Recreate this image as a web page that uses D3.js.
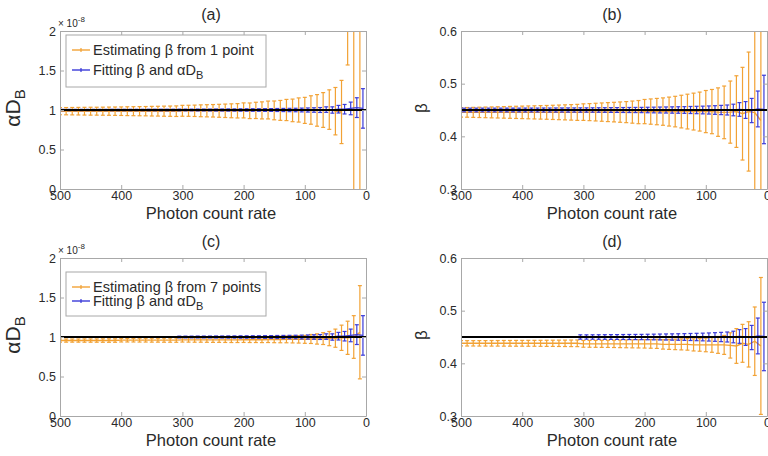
<!DOCTYPE html>
<html>
<head>
<meta charset="utf-8">
<script src="https://cdnjs.cloudflare.com/ajax/libs/d3/7.8.5/d3.min.js"></script>
<style>
    body { margin: 0; background: #fff; }
    svg text { font-family: "Liberation Sans", Arial, sans-serif; fill: #2a2a2a; }
</style>
</head>
<body>
<div id="chart"></div>
<script>
// photon count rates of the error bars
var orangeRates = [10, 20, 30, 40, 50, 60, 70, 80, 90, 100, 110, 120, 130, 140, 150, 160, 170, 180, 190, 200,
    210, 220, 230, 240, 250, 260, 270, 280, 290, 300, 310, 320, 330, 340, 350, 360, 370, 380, 390, 400,
    410, 420, 430, 440, 450, 460, 470, 480, 490, 500];
var blueRates = [5, 15, 25, 35, 45, 55, 65, 75, 85, 95, 105, 115, 125, 135, 145, 155, 165, 175, 185, 195,
    205, 215, 225, 235, 245, 255, 265, 275, 285, 295, 305, 315, 325, 335, 345, 355, 365, 375, 385, 395,
    405, 415, 425, 435, 445, 455, 465, 475, 485, 495];

// (a) estimating beta from 1 point, alpha*D_B (x 1e-8)
var alphaOneMean = [1.00, 1.00, 2.40, 0.975, 0.985, 1.005, 1.00, 0.995, 1.00, 0.995,
    1.00, 0.995, 1.00, 0.995, 0.995, 1.00, 0.995, 0.995, 0.99, 0.995,
    0.99, 0.99, 0.99, 0.99, 0.99, 0.99, 0.99, 0.99, 0.99, 0.99,
    0.985, 0.985, 0.985, 0.985, 0.985, 0.985, 0.985, 0.985, 0.985, 0.985,
    0.985, 0.985, 0.985, 0.985, 0.985, 0.985, 0.985, 0.985, 0.985, 0.985];
var alphaOneErr = [2.20, 1.60, 0.83, 0.40, 0.30, 0.25, 0.22, 0.20, 0.18, 0.165,
    0.153, 0.143, 0.134, 0.126, 0.119, 0.113, 0.108, 0.103, 0.099, 0.095,
    0.091, 0.088, 0.085, 0.082, 0.079, 0.077, 0.075, 0.072, 0.070, 0.069,
    0.067, 0.065, 0.064, 0.062, 0.061, 0.059, 0.058, 0.057, 0.056, 0.054,
    0.053, 0.052, 0.051, 0.050, 0.050, 0.049, 0.048, 0.047, 0.046, 0.045];

// (b) estimating beta from 1 point, beta
var betaOneMean = [0.43, 0.445, 0.447, 0.443, 0.447, 0.446, 0.4455, 0.446, 0.447, 0.447,
    0.447, 0.447, 0.447, 0.447, 0.447, 0.447, 0.447, 0.447, 0.447, 0.447,
    0.446, 0.446, 0.446, 0.446, 0.446, 0.446, 0.446, 0.446, 0.446, 0.446,
    0.4455, 0.4455, 0.4455, 0.4455, 0.4455, 0.4455, 0.4455, 0.4455, 0.4455, 0.4455,
    0.4455, 0.4455, 0.4455, 0.4455, 0.4455, 0.4455, 0.4455, 0.4455, 0.4455, 0.4455];
var betaOneErr = [0.20, 0.18, 0.113, 0.088, 0.068, 0.059, 0.050, 0.046, 0.042, 0.040,
    0.037, 0.035, 0.033, 0.031, 0.029, 0.0275, 0.026, 0.025, 0.024, 0.023,
    0.022, 0.021, 0.020, 0.0193, 0.0186, 0.018, 0.0174, 0.0168, 0.0162, 0.0157,
    0.0152, 0.0147, 0.0143, 0.0139, 0.0135, 0.0131, 0.0128, 0.0125, 0.0122, 0.0119,
    0.0116, 0.0113, 0.011, 0.0107, 0.0104, 0.0101, 0.0098, 0.0095, 0.0092, 0.009];

// (c) estimating beta from 7 points, alpha*D_B (x 1e-8)
var alphaSevenMean = [1.06, 1.00, 0.99, 0.99, 0.985, 0.98, 0.98, 0.975, 0.975, 0.97,
    0.97, 0.97, 0.97, 0.968, 0.968, 0.968, 0.966, 0.966, 0.965, 0.965,
    0.963, 0.963, 0.963, 0.963, 0.963, 0.963, 0.963, 0.963, 0.963, 0.963,
    0.96, 0.96, 0.96, 0.96, 0.96, 0.96, 0.96, 0.96, 0.96, 0.96,
    0.955, 0.955, 0.955, 0.955, 0.955, 0.955, 0.955, 0.955, 0.955, 0.955];
var alphaSevenErr = [0.59, 0.27, 0.21, 0.16, 0.115, 0.09, 0.075, 0.065, 0.057, 0.05,
    0.047, 0.045, 0.043, 0.041, 0.04, 0.038, 0.037, 0.036, 0.035, 0.034,
    0.033, 0.033, 0.032, 0.031, 0.031, 0.03, 0.029, 0.029, 0.028, 0.027,
    0.027, 0.026, 0.026, 0.025, 0.025, 0.024, 0.024, 0.023, 0.023, 0.023,
    0.022, 0.022, 0.022, 0.021, 0.021, 0.021, 0.020, 0.020, 0.020, 0.020];

// (d) estimating beta from 7 points, beta
var betaSevenMean = [0.433, 0.442, 0.436, 0.438, 0.433, 0.434, 0.435, 0.435, 0.435, 0.435,
    0.435, 0.435, 0.436, 0.436, 0.436, 0.436, 0.436, 0.437, 0.437, 0.437,
    0.437, 0.437, 0.437, 0.437, 0.437, 0.437, 0.437, 0.437, 0.437, 0.437,
    0.438, 0.438, 0.438, 0.438, 0.438, 0.438, 0.438, 0.438, 0.438, 0.438,
    0.438, 0.438, 0.438, 0.438, 0.438, 0.438, 0.438, 0.438, 0.438, 0.438];
var betaSevenErr = [0.13, 0.065, 0.043, 0.036, 0.033, 0.024, 0.018, 0.016, 0.014, 0.013,
    0.012, 0.0115, 0.011, 0.0105, 0.010, 0.0095, 0.009, 0.0087, 0.0083, 0.008,
    0.0078, 0.0076, 0.0074, 0.0072, 0.007, 0.0068, 0.0067, 0.0066, 0.0065, 0.0064,
    0.0063, 0.0062, 0.0061, 0.006, 0.0059, 0.0058, 0.0057, 0.0056, 0.0056, 0.0055,
    0.0055, 0.0054, 0.0054, 0.0053, 0.0053, 0.0052, 0.0052, 0.0051, 0.0051, 0.005];

// fitting beta and alpha*D_B (shared by both rows)
var blueAlphaMean = [1.02, 1.03, 1.02, 1.01, 1.01, 1.00, 1.005, 1.00, 1.00, 1.00,
    1.00, 1.00, 1.00, 1.00, 1.00, 1.00, 1.00, 1.00, 1.00, 1.00,
    1.00, 1.00, 1.00, 1.00, 1.00, 1.00, 1.00, 1.00, 1.00, 1.00,
    1.00, 1.00, 1.00, 1.00, 1.00, 1.00, 1.00, 1.00, 1.00, 1.00,
    1.00, 1.00, 1.00, 1.00, 1.00, 1.00, 1.00, 1.00, 1.00, 1.00];
var blueAlphaErr = [0.25, 0.125, 0.08, 0.06, 0.048, 0.04, 0.035, 0.031, 0.028, 0.026,
    0.024, 0.022, 0.021, 0.02, 0.019, 0.018, 0.017, 0.016, 0.016, 0.015,
    0.015, 0.014, 0.014, 0.013, 0.013, 0.012, 0.012, 0.012, 0.011, 0.011,
    0.011, 0.010, 0.010, 0.010, 0.010, 0.010, 0.009, 0.009, 0.009, 0.009,
    0.009, 0.009, 0.008, 0.008, 0.008, 0.008, 0.008, 0.008, 0.008, 0.008];
var blueBetaMean = [0.451, 0.452, 0.449, 0.45, 0.451, 0.45, 0.45, 0.45, 0.45, 0.45,
    0.45, 0.45, 0.45, 0.45, 0.45, 0.45, 0.45, 0.45, 0.45, 0.45,
    0.45, 0.45, 0.45, 0.45, 0.45, 0.45, 0.45, 0.45, 0.45, 0.45,
    0.45, 0.45, 0.45, 0.45, 0.45, 0.45, 0.45, 0.45, 0.45, 0.45,
    0.45, 0.45, 0.45, 0.45, 0.45, 0.45, 0.45, 0.45, 0.45, 0.45];
var blueBetaErr = [0.065, 0.034, 0.023, 0.016, 0.013, 0.011, 0.0095, 0.0088, 0.0082, 0.0077,
    0.0073, 0.007, 0.0067, 0.0064, 0.0062, 0.006, 0.0058, 0.0056, 0.0054, 0.0052,
    0.005, 0.0049, 0.0048, 0.0047, 0.0046, 0.0045, 0.0044, 0.0043, 0.0042, 0.0041,
    0.0041, 0.004, 0.004, 0.0039, 0.0039, 0.0038, 0.0038, 0.0037, 0.0037, 0.0037,
    0.0036, 0.0036, 0.0036, 0.0035, 0.0035, 0.0035, 0.0035, 0.0035, 0.0035, 0.0035];

var xTicks = [0, 100, 200, 300, 400, 500];
var alphaTicks = [0, 0.5, 1, 1.5, 2];
var betaTicks = [0.3, 0.4, 0.5, 0.6];
var trueAlpha = 1;
var trueBeta = 0.45;
var blueMaxRateBottom = 305;   // blue series in (c)/(d) only below this rate

var ORANGE = '#f2a235';
var BLUE = '#3a3ad8';
var FRAME = '#a8a8a8';

var svg = d3.select('#chart')
    .append('svg')
    .attr('width', 768)
    .attr('height', 456);

var panels = [
    { id: 'a', left: 60, top: 31, w: 306, h: 158, domain: [0, 2], ticks: alphaTicks, alpha: true,
      mean: alphaOneMean, err: alphaOneErr, bMean: blueAlphaMean, bErr: blueAlphaErr, truth: trueAlpha,
      maxBlue: 500, legend: 'Estimating \u03b2 from 1 point' },
    { id: 'b', left: 461, top: 31, w: 306, h: 158, domain: [0.3, 0.6], ticks: betaTicks, alpha: false,
      mean: betaOneMean, err: betaOneErr, bMean: blueBetaMean, bErr: blueBetaErr, truth: trueBeta,
      maxBlue: 500 },
    { id: 'c', left: 60, top: 258, w: 306, h: 158, domain: [0, 2], ticks: alphaTicks, alpha: true,
      mean: alphaSevenMean, err: alphaSevenErr, bMean: blueAlphaMean, bErr: blueAlphaErr, truth: trueAlpha,
      maxBlue: blueMaxRateBottom, legend: 'Estimating \u03b2 from 7 points' },
    { id: 'd', left: 461, top: 258, w: 306, h: 158, domain: [0.3, 0.6], ticks: betaTicks, alpha: false,
      mean: betaSevenMean, err: betaSevenErr, bMean: blueBetaMean, bErr: blueBetaErr, truth: trueBeta,
      maxBlue: blueMaxRateBottom }
];

panels.forEach(drawPanel);

function drawPanel (p) {
    var g = svg.append('g').attr('transform', 'translate(' + p.left + ',' + p.top + ')');
    var x = d3.scaleLinear().domain([500, 0]).range([0, p.w]);
    var y = d3.scaleLinear().domain(p.domain).range([p.h, 0]);

    g.append('clipPath').attr('id', 'clip-' + p.id)
        .append('rect').attr('width', p.w).attr('height', p.h);

    var plot = g.append('g').attr('clip-path', 'url(#clip-' + p.id + ')');

    var orange = orangeRates.map(function (r, i) {
        return { rate: r, mean: p.mean[i], err: p.err[i] };
    });
    var blue = blueRates.map(function (r, i) {
        return { rate: r, mean: p.bMean[i], err: p.bErr[i] };
    }).filter(function (d) { return d.rate <= p.maxBlue; });

    drawSeries(plot, orange, ORANGE, x, y);
    drawSeries(plot, blue, BLUE, x, y);

    plot.append('line')
        .attr('x1', 0).attr('x2', p.w)
        .attr('y1', y(p.truth)).attr('y2', y(p.truth))
        .attr('stroke', '#000').attr('stroke-width', 2);

    // axes, ticks inside like matlab
    var fmt = p.alpha ? d3.format('') : d3.format('.1f');
    var ax = [
        d3.axisBottom(x).tickValues(xTicks).tickSize(-4).tickPadding(2),
        d3.axisTop(x).tickValues(xTicks).tickSize(-4).tickFormat(''),
        d3.axisLeft(y).tickValues(p.ticks).tickSize(-4).tickPadding(4).tickFormat(fmt),
        d3.axisRight(y).tickValues(p.ticks).tickSize(-4).tickFormat('')
    ];
    var pos = [[0, p.h], [0, 0], [0, 0], [p.w, 0]];
    ax.forEach(function (a, k) {
        var axg = g.append('g')
            .attr('transform', 'translate(' + pos[k][0] + ',' + pos[k][1] + ')')
            .call(a.tickSizeOuter(0));
        axg.select('.domain').attr('stroke', FRAME);
        axg.selectAll('.tick line').attr('stroke', FRAME);
        axg.selectAll('.tick text').attr('font-size', 12.5).attr('fill', '#2a2a2a');
    });

    // title and x label
    g.append('text').attr('x', p.w / 2 - 2).attr('y', -11)
        .attr('text-anchor', 'middle').attr('font-size', 16)
        .text('(' + p.id + ')');
    g.append('text').attr('x', p.w / 2 - 2).attr('y', p.h + 30)
        .attr('text-anchor', 'middle').attr('font-size', 16.5)
        .text('Photon count rate');

    // y label
    var yl = g.append('text')
        .attr('transform', 'translate(' + (p.alpha ? -40 : -34) + ',' + (p.h / 2 - 2) + ') rotate(-90)')
        .attr('text-anchor', 'middle');
    if (p.alpha) {
        yl.attr('font-size', 21).text('\u03b1D');
        yl.append('tspan').attr('dy', '0.35em').attr('font-size', 15).text('B');
        var ex = g.append('text').attr('x', -2).attr('y', -4).attr('font-size', 10).text('\u00d7 10');
        ex.append('tspan').attr('dy', -5).attr('font-size', 8).text('-8');
    } else {
        yl.attr('font-size', 17).text('\u03b2');
    }

    if (p.legend) drawLegend(g, p.legend, p.id === 'a' ? 4 : 14, p.id === 'a' ? 52 : 44);

    function drawSeries (plot, data, color) {
        // the mean line breaks where a mean leaves the axes
        var line = d3.line()
            .defined(function (d) { return d.mean >= p.domain[0] && d.mean <= p.domain[1]; })
            .x(function (d) { return x(d.rate); })
            .y(function (d) { return y(d.mean); });

        plot.append('path').datum(data)
            .attr('d', line).attr('fill', 'none')
            .attr('stroke', color).attr('stroke-width', 1.4);

        var bars = plot.selectAll(null).data(data).enter().append('g')
            .attr('stroke', color).attr('stroke-width', 1.2);
        bars.append('line')
            .attr('x1', function (d) { return x(d.rate); })
            .attr('x2', function (d) { return x(d.rate); })
            .attr('y1', function (d) { return y(d.mean - d.err); })
            .attr('y2', function (d) { return y(d.mean + d.err); });
        [-1, 1].forEach(function (s) {
            bars.append('line')
                .attr('x1', function (d) { return x(d.rate) - 2; })
                .attr('x2', function (d) { return x(d.rate) + 2; })
                .attr('y1', function (d) { return y(d.mean + s * d.err); })
                .attr('y2', function (d) { return y(d.mean + s * d.err); });
        });
    }
}

function drawLegend (g, label, top, height) {
    var lg = g.append('g').attr('transform', 'translate(6,' + top + ')');
    lg.append('rect').attr('width', 200).attr('height', height)
        .attr('fill', '#fff').attr('stroke', FRAME);
    var rowY = height === 52 ? [15, 35] : [15, 29];
    var items = [{ color: ORANGE, y: rowY[0] }, { color: BLUE, y: rowY[1] }];
    items.forEach(function (it) {
        lg.append('line').attr('x1', 6).attr('x2', 24).attr('y1', it.y).attr('y2', it.y)
            .attr('stroke', it.color).attr('stroke-width', 1.4);
        lg.append('line').attr('x1', 15).attr('x2', 15).attr('y1', it.y - 2).attr('y2', it.y + 2)
            .attr('stroke', it.color).attr('stroke-width', 1.2);
    });
    lg.append('text').attr('x', 27).attr('y', rowY[0] + 5).attr('font-size', 14.5).text(label);
    var t = lg.append('text').attr('x', 27).attr('y', rowY[1] + 5).attr('font-size', 14.5)
        .text('Fitting \u03b2 and \u03b1D');
    t.append('tspan').attr('dy', '0.35em').attr('font-size', 11).text('B');
}
</script>
</body>
</html>
